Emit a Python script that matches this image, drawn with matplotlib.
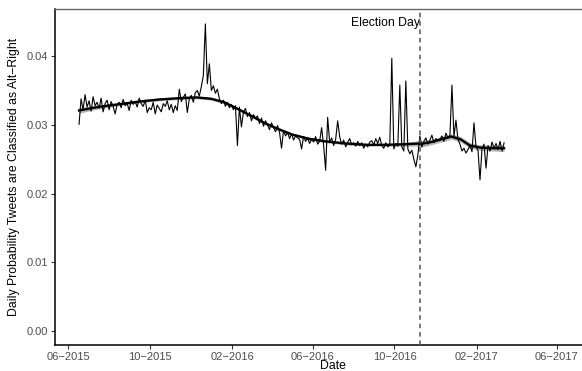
import numpy as np
import pandas as pd
import matplotlib
matplotlib.use("Agg")
import matplotlib.pyplot as plt
import matplotlib.dates as mdates

plt.rcParams['font.family'] = ['Liberation Sans', 'DejaVu Sans']

# daily share of tweets classified as alt-right, read every 3 days
start_date = "2015-06-17"
step_days = 3
alt_right = [
    0.0301, 0.0338, 0.0322, 0.0344, 0.0326, 0.0335, 0.0320, 0.0341, 0.0328, 0.0333,
    0.0324, 0.0339, 0.0319, 0.0331, 0.0336, 0.0322, 0.0334, 0.0327, 0.0316, 0.0330,
    0.0333, 0.0325, 0.0337, 0.0328, 0.0331, 0.0321, 0.0336, 0.0330, 0.0334, 0.0326,
    0.0339, 0.0331, 0.0327, 0.0336, 0.0318, 0.0325, 0.0322, 0.0333, 0.0316, 0.0329,
    0.0324, 0.0319, 0.0331, 0.0327, 0.0335, 0.0322, 0.0330, 0.0318, 0.0328, 0.0321,
    0.0352, 0.0334, 0.0340, 0.0345, 0.0318, 0.0338, 0.0343, 0.0333, 0.0347, 0.0350,
    0.0342, 0.0356, 0.0372, 0.0447, 0.0360, 0.0389, 0.0350, 0.0357, 0.0346, 0.0352,
    0.0338, 0.0331, 0.0336, 0.0327, 0.0333, 0.0325, 0.0330, 0.0322, 0.0328, 0.0270,
    0.0326, 0.0297, 0.0319, 0.0324, 0.0312, 0.0318, 0.0306, 0.0315, 0.0310, 0.0313,
    0.0302, 0.0310, 0.0298, 0.0306, 0.0300, 0.0293, 0.0303, 0.0296, 0.0290, 0.0299,
    0.0289, 0.0266, 0.0292, 0.0284, 0.0289, 0.0280, 0.0287, 0.0278, 0.0284, 0.0281,
    0.0279, 0.0265, 0.0283, 0.0276, 0.0281, 0.0273, 0.0279, 0.0275, 0.0283, 0.0272,
    0.0276, 0.0296, 0.0270, 0.0234, 0.0311, 0.0275, 0.0281, 0.0270, 0.0279, 0.0306,
    0.0283, 0.0272, 0.0278, 0.0268, 0.0275, 0.0280, 0.0271, 0.0274, 0.0269, 0.0276,
    0.0270, 0.0274, 0.0266, 0.0272, 0.0268, 0.0275, 0.0277, 0.0271, 0.0280, 0.0273,
    0.0282, 0.0270, 0.0266, 0.0274, 0.0268, 0.0271, 0.0397, 0.0265, 0.0273, 0.0269,
    0.0358, 0.0268, 0.0262, 0.0364, 0.0265, 0.0258, 0.0263, 0.0250, 0.0239, 0.0256,
    0.0284, 0.0268, 0.0276, 0.0281, 0.0272, 0.0278, 0.0285, 0.0274, 0.0280, 0.0277,
    0.0279, 0.0284, 0.0276, 0.0288, 0.0281, 0.0285, 0.0358, 0.0283, 0.0307, 0.0279,
    0.0272, 0.0262, 0.0266, 0.0259, 0.0264, 0.0270, 0.0261, 0.0303, 0.0268, 0.0263,
    0.0220, 0.0265, 0.0272, 0.0237, 0.0270, 0.0262, 0.0275, 0.0266, 0.0273, 0.0264,
    0.0276, 0.0262, 0.0274,
]

# smoothed trend (before / after election), with half width of grey band
pre_dates = ["2015-06-17", "2015-07-15", "2015-08-15", "2015-09-15", "2015-10-15",
             "2015-11-15", "2015-12-10", "2016-01-01", "2016-01-20", "2016-02-10",
             "2016-03-01", "2016-03-20", "2016-04-10", "2016-05-01", "2016-05-25",
             "2016-06-20", "2016-07-20", "2016-08-20", "2016-09-20", "2016-10-20",
             "2016-11-08"]
pre_trend = [0.0321, 0.0326, 0.0330, 0.0334, 0.0337, 0.0339, 0.0340, 0.0338, 0.0333,
             0.0323, 0.0313, 0.0303, 0.0294, 0.0286, 0.0280, 0.0276, 0.0273, 0.0271,
             0.0271, 0.0272, 0.0273]
pre_band = [0.0004, 0.0003, 0.0002, 0.0002, 0.0002, 0.0002, 0.0002, 0.0002, 0.0002,
            0.0002, 0.0002, 0.0002, 0.0002, 0.0002, 0.0002, 0.0002, 0.0002, 0.0002,
            0.0002, 0.0003, 0.0004]
post_dates = ["2016-11-08", "2016-11-25", "2016-12-10", "2016-12-25", "2017-01-08",
              "2017-01-22", "2017-02-06", "2017-02-25", "2017-03-14"]
post_trend = [0.0272, 0.0275, 0.0279, 0.0283, 0.0279, 0.0270, 0.0267, 0.0266, 0.0266]
post_band = [0.0005, 0.0004, 0.0004, 0.0004, 0.0004, 0.0004, 0.0004, 0.0004, 0.0005]

election_day = "2016-11-08"
tick_dates = ["2015-06-01", "2015-10-01", "2016-02-01", "2016-06-01",
              "2016-10-01", "2017-02-01", "2017-06-01"]

dates = pd.date_range(start_date, periods=len(alt_right), freq="%dD" % step_days)

fig = plt.figure(figsize=(5.82, 3.71), dpi=100)
ax = fig.add_axes([0.0945, 0.0701, 0.9553, 0.9043])

ax.plot(dates, alt_right, color='black', lw=0.8, zorder=3)

for d, t, b in [(pre_dates, pre_trend, pre_band), (post_dates, post_trend, post_band)]:
    d = pd.to_datetime(d)
    t = np.array(t)
    b = np.array(b)
    ax.fill_between(d, t - b, t + b, color='#999999', alpha=0.7, lw=0, zorder=2)
    ax.plot(d, t, color='black', lw=1.7, zorder=4)

ed = pd.Timestamp(election_day)
ax.axvline(ed, color='#555555', ls=(0, (3, 2.5)), lw=1.1, zorder=5)
ax.text(ed, 0.0448, "Election Day", ha='right', va='center', fontsize=8.8, color='black')

ax.set_xlim(pd.Timestamp("2015-05-12"), pd.Timestamp("2017-08-21"))
ax.set_ylim(-0.00204, 0.0468)
ax.set_xticks(pd.to_datetime(tick_dates))
ax.xaxis.set_major_formatter(mdates.DateFormatter("%m\u2212%Y"))
ax.set_yticks([0.0, 0.01, 0.02, 0.03, 0.04])
ax.set_yticklabels(["0.00", "0.01", "0.02", "0.03", "0.04"])

ax.tick_params(axis='both', length=3, width=0.8, color='#333333',
               labelsize=8, labelcolor='#4D4D4D', pad=2)

for side in ['left', 'bottom']:
    ax.spines[side].set_color('black')
    ax.spines[side].set_linewidth(1.1)
ax.spines['top'].set_color('#666666')
ax.spines['top'].set_linewidth(1.0)
ax.spines['right'].set_visible(False)

ax.set_xlabel("Date", fontsize=8.8, labelpad=0)
ax.set_ylabel("Daily Probability Tweets are Classified as Alt\u2212Right", fontsize=8.8)
ax.yaxis.set_label_coords(-0.063, 0.5)
ax.xaxis.set_label_coords(0.5, -0.045)

fig.savefig("out.png", dpi=100)
